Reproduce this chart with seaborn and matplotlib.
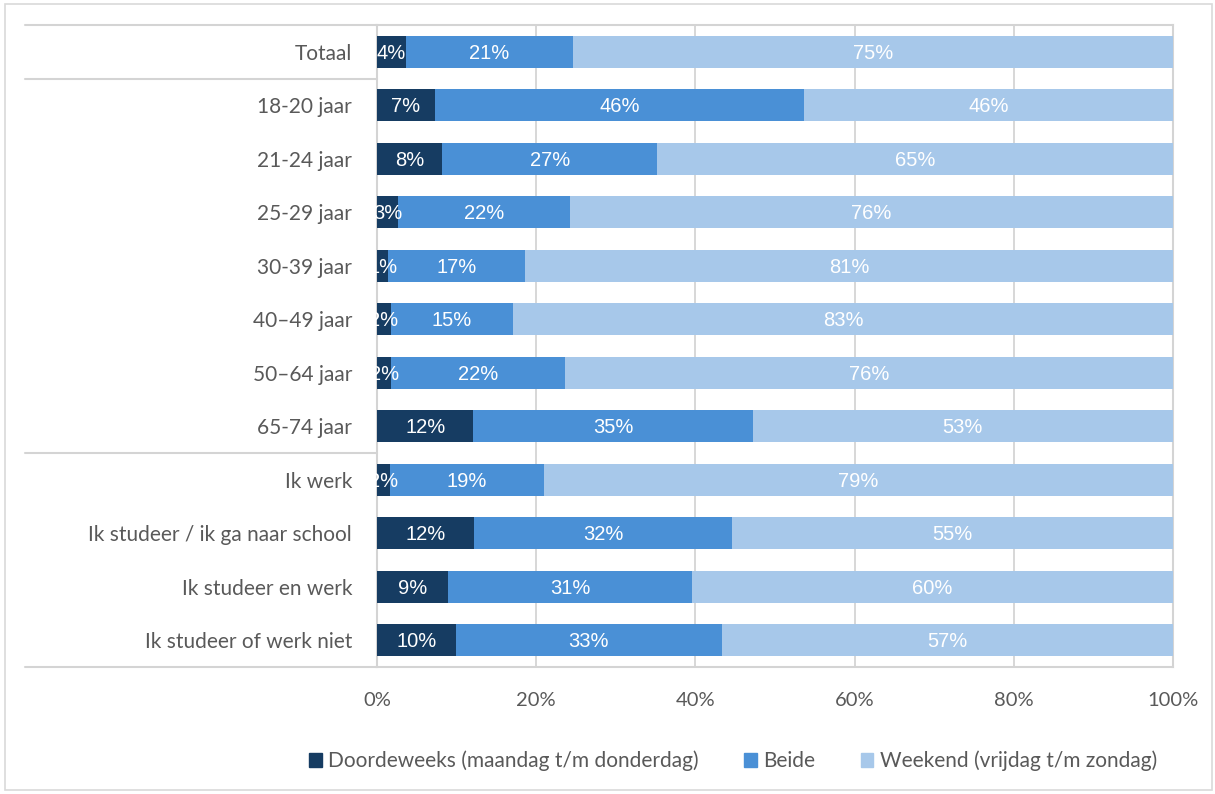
import matplotlib
matplotlib.use("Agg")
import matplotlib.pyplot as plt
import seaborn as sns
import pandas as pd
import numpy as np
from matplotlib.patches import Rectangle
import matplotlib.transforms as mtransforms

categories = ["Totaal", "18-20 jaar", "21-24 jaar", "25-29 jaar", "30-39 jaar",
              "40–49 jaar", "50–64 jaar", "65-74 jaar", "Ik werk",
              "Ik studeer / ik ga naar school", "Ik studeer en werk",
              "Ik studeer of werk niet"]
doordeweeks = [3.6, 7.3, 8.2, 2.6, 1.4, 1.7, 1.8, 12.1, 1.6, 12.2, 8.9, 9.9]
beide = [21.0, 46.3, 27.0, 21.6, 17.2, 15.4, 21.8, 35.1, 19.4, 32.4, 30.7, 33.4]
weekend = [75.4, 46.4, 64.8, 75.8, 81.4, 82.9, 76.4, 52.8, 79.0, 55.4, 60.4, 56.7]
series_names = ["Doordeweeks (maandag t/m donderdag)", "Beide", "Weekend (vrijdag t/m zondag)"]
xticks = [0, 20, 40, 60, 80, 100]
xtick_labels = ["0%", "20%", "40%", "60%", "80%", "100%"]
separators_after = ["Totaal", "65-74 jaar"]

colors = ["#163c62", "#4a90d6", "#a7c8ea"]
gray_text = "#595959"
line_col = "#d4d4d4"

sns.set_theme(style="white")
plt.rcParams["font.family"] = ["Lato", "DejaVu Sans"]

df = pd.DataFrame({"cat": categories, "d": doordeweeks, "b": beide, "w": weekend})
df["c1"] = df["d"]
df["c2"] = df["d"] + df["b"]
df["c3"] = df["d"] + df["b"] + df["w"]

fig = plt.figure(figsize=(12.15, 7.94), dpi=100)
ax = fig.add_axes([377/1215, 1 - 667/794, (1173-377)/1215, (667-25)/794])

for col, c in zip(["c3", "c2", "c1"], [colors[2], colors[1], colors[0]]):
    sns.barplot(data=df, x=col, y="cat", order=categories, orient="h",
                color=c, saturation=1, width=0.6, ax=ax, zorder=3,
                linewidth=0, edgecolor="none")

ax.set_xlim(0, 100)
ax.set_ylim(len(categories) - 0.5, -0.5)
ax.set_xlabel("")
ax.set_ylabel("")
ax.set_xticks(xticks)
ax.set_xticklabels(xtick_labels, fontsize=14.5, color=gray_text)
ax.tick_params(axis="x", length=0, pad=18)
ax.tick_params(axis="y", length=0, pad=18, labelsize=15, labelcolor=gray_text)
for x in xticks[1:-1]:
    ax.axvline(x, color=line_col, lw=1.3, zorder=1)
for s in ax.spines.values():
    s.set_color(line_col)
    s.set_linewidth(1.5)

# value labels
for i, row in df.iterrows():
    starts = [0, row["c1"], row["c2"]]
    vals = [row["d"], row["b"], row["w"]]
    for st, v in zip(starts, vals):
        ax.text(st + v / 2, i + 0.03, f"{v:.0f}%", ha="center", va="center",
                color="white", fontsize=14.5, zorder=5,
                family=["Liberation Sans", "DejaVu Sans"])

# separator lines in the label area
trans = mtransforms.blended_transform_factory(ax.transAxes, ax.transData)
x0 = (25 - 377) / (1173 - 377)
for name in separators_after:
    yv = categories.index(name) + 0.5
    ax.plot([x0, 0], [yv, yv], transform=trans, color=line_col, lw=1.5, clip_on=False)
for yv in [-0.5, len(categories) - 0.5]:
    ax.plot([x0, 0], [yv, yv], transform=trans, color=line_col, lw=1.5, clip_on=False)

# legend
handles = [Rectangle((0, 0), 1, 1, color=c) for c in colors]
fig.legend(handles, series_names, loc="center", ncol=3, frameon=False,
           bbox_to_anchor=(733/1215, 1 - 761/794), fontsize=15,
           labelcolor=gray_text, handlelength=0.6, handleheight=0.6,
           handletextpad=0.3, columnspacing=2.2)

# outer frame
fig.patches.append(Rectangle((5/1215, 4/794), 1 - 8/1215, 1 - 8/794,
                             transform=fig.transFigure, fill=False,
                             edgecolor="#d9d9d9", lw=1.2))

fig.savefig("out.png", dpi=100)
